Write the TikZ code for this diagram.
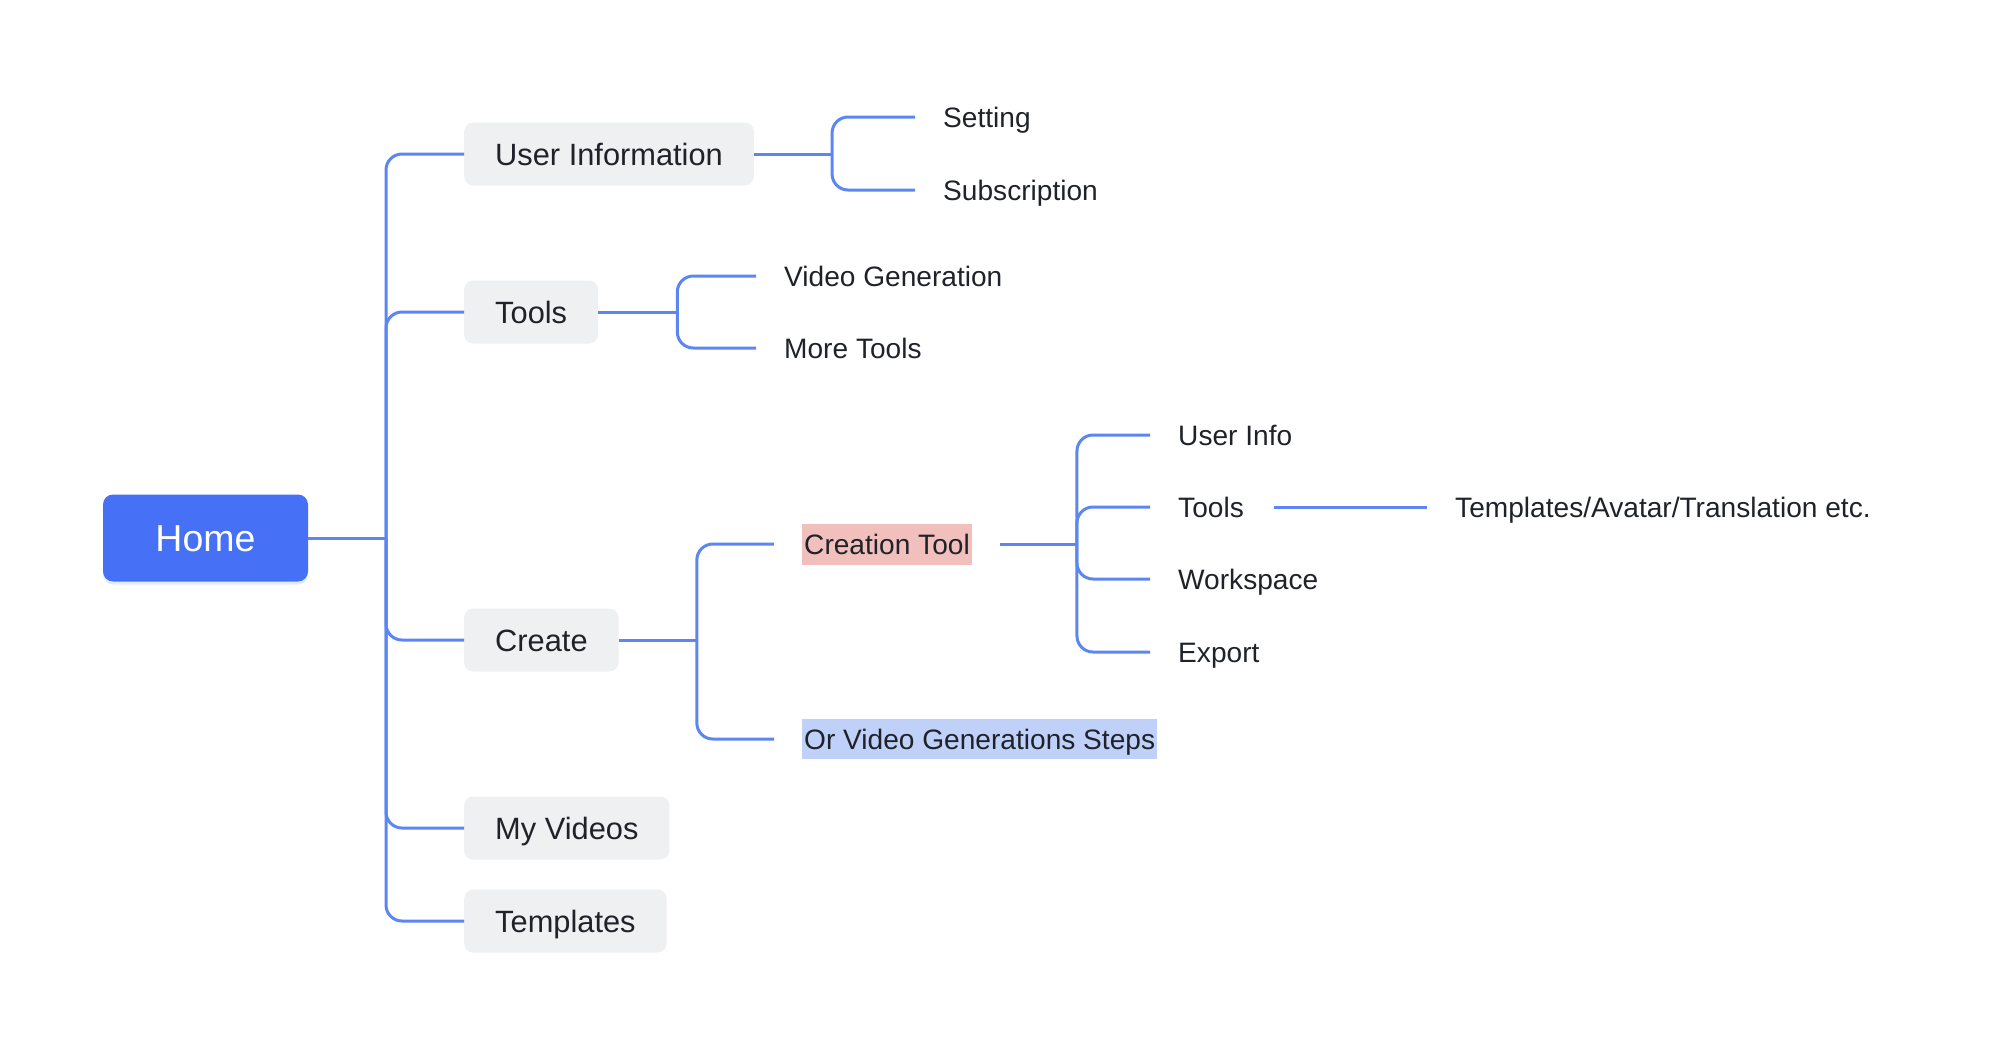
\documentclass[tikz,border=0pt]{standalone}
\usepackage{fontspec}
\setmainfont{Liberation Sans}
\usetikzlibrary{positioning,shadows}

\definecolor{linkblue}{HTML}{5C86F2}
\definecolor{homeblue}{HTML}{4671F6}
\definecolor{boxgray}{HTML}{EFF0F2}
\definecolor{inkdark}{HTML}{1F2329}
\definecolor{markpink}{HTML}{F1C0BC}
\definecolor{markblue}{HTML}{BFD0F9}

\begin{document}
\begin{tikzpicture}[x=1pt,y=-1pt,
  link/.style={draw=linkblue,line width=3pt,rounded corners=16pt},
  leaflink/.style={link,shorten >=28pt},
  root/.style={fill=homeblue,text=white,rounded corners=10pt,minimum width=205pt,minimum height=87pt,
    text height=27pt,text depth=0pt,
    font=\fontsize{37.5}{44}\selectfont,drop shadow={shadow xshift=0pt,shadow yshift=-3pt,opacity=0.15,fill=homeblue}},
  topic/.style={fill=boxgray,text=inkdark,rounded corners=9pt,minimum height=63pt,inner xsep=31pt,
    text height=22pt,text depth=0pt,anchor=west,font=\fontsize{30.8}{36}\selectfont},
  leaf/.style={text=inkdark,inner xsep=0pt,inner ysep=0pt,text height=20pt,text depth=0pt,
    anchor=west,font=\fontsize{28.1}{33}\selectfont},
  hlpink/.style={leaf,fill=markpink,inner xsep=2pt,minimum height=41pt},
  hlblue/.style={leaf,fill=markblue,inner xsep=2pt,minimum height=40pt}]
  \useasboundingbox (0,0) rectangle (2012,1039);

  % root and main topics
  \node[root] (home) at (205.5,538) {Home};
  \coordinate (trunk) at (386,538);
  \node[topic] (uinfo) at (464,154) {User Information};
  \node[topic] (tools) at (464,312) {Tools};
  \node[topic] (create) at (464,640) {Create};
  \node[topic] (videos) at (464,828) {My Videos};
  \node[topic] (templates) at (464,921) {Templates};
  \draw[link] (home.east) -- (trunk);
  \foreach \n in {uinfo,tools,create,videos,templates}
    \draw[link] (trunk) |- (\n.west);

  % user information
  \coordinate (uinfo-j) at ([xshift=78pt]uinfo.east);
  \node[leaf] (setting) at (943,117) {Setting};
  \node[leaf] (subscr) at (943,190) {Subscription};
  \draw[link] (uinfo.east) -- (uinfo-j);
  \foreach \n in {setting,subscr}
    \draw[leaflink] (uinfo-j) |- (\n.west);

  % tools
  \coordinate (tools-j) at ([xshift=79pt]tools.east);
  \node[leaf] (videogen) at (784,276) {Video Generation};
  \node[leaf] (moretools) at (784,348) {More Tools};
  \draw[link] (tools.east) -- (tools-j);
  \foreach \n in {videogen,moretools}
    \draw[leaflink] (tools-j) |- (\n.west);

  % create
  \coordinate (create-j) at ([xshift=78pt]create.east);
  \node[hlpink] (ctool) at (802,544) {Creation Tool};
  \node[hlblue] (steps) at (802,739) {Or Video Generations Steps};
  \draw[link] (create.east) -- (create-j);
  \foreach \n in {ctool,steps}
    \draw[leaflink] (create-j) |- (\n.west);

  % creation tool
  \coordinate (ctool-j) at ([xshift=105pt]ctool.east);
  \node[leaf] (userinfo) at (1178,435) {User Info};
  \node[leaf] (ctools) at (1178,507) {Tools};
  \node[leaf] (workspace) at (1178,579) {Workspace};
  \node[leaf] (export) at (1178,652) {Export};
  \draw[link,shorten <=28pt] (ctool.east) -- (ctool-j);
  \foreach \n in {userinfo,ctools,workspace,export}
    \draw[leaflink] (ctool-j) |- (\n.west);

  \node[leaf] (extras) at (1455,507) {Templates/Avatar/Translation etc.};
  \draw[leaflink,shorten <=30pt] (ctools.east) -- (extras.west);
\end{tikzpicture}
\end{document}
